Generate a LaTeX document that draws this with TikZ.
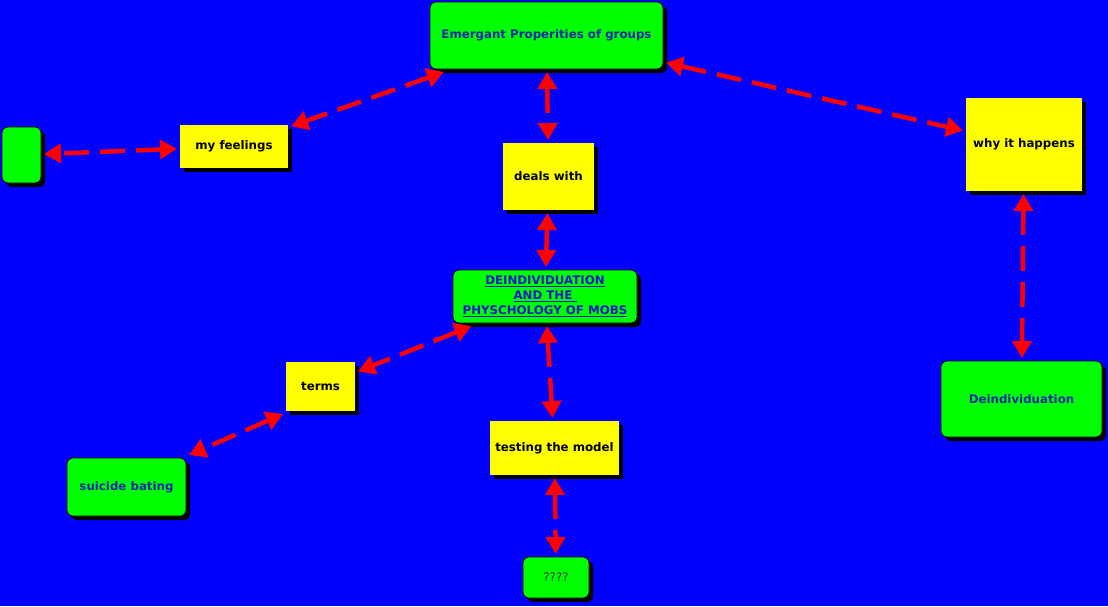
\documentclass[tikz,border=0pt]{standalone}
\usepackage{fontspec}
\setmainfont{DejaVu Sans}
\usetikzlibrary{arrows.meta,shadows}
\definecolor{bg}{RGB}{0,0,255}
\definecolor{gr}{RGB}{0,255,0}
\definecolor{ye}{RGB}{255,255,0}
\definecolor{rd}{RGB}{255,0,0}
\definecolor{gtext}{RGB}{20,40,170}
\definecolor{ltext}{RGB}{25,25,200}
\tikzset{
  base/.style={inner sep=0pt, outer sep=3pt, align=center,
    font=\fontsize{11.8}{15}\selectfont\bfseries,
    drop shadow={shadow xshift=4pt, shadow yshift=-4pt, fill=black, opacity=1}},
  gbox/.style={base, fill=gr, draw=black, line width=0.8pt, rounded corners=6pt, text=gtext},
  ybox/.style={base, fill=ye, text=black},
  link/.style={draw=rd, line width=4.5pt, dash pattern=on 25pt off 11pt,
    {Triangle[length=17pt,width=19pt]}-{Triangle[length=17pt,width=19pt]}}
}
\begin{document}
\begin{tikzpicture}[x=1pt,y=-1pt]
\fill[bg] (0,0) rectangle (1108,606);
\useasboundingbox (0,0) rectangle (1108,606);
\node[gbox, minimum width=233pt, minimum height=67pt] (emerg) at (546.5,35.5) {Emergant Properities of groups};
\node[ybox, minimum width=108pt, minimum height=43pt] (feel) at (234,146.5) {my feelings};
\node[gbox, minimum width=39pt, minimum height=56pt] (empty) at (21.5,155) {};
\node[ybox, minimum width=91pt, minimum height=67pt] (deals) at (548.5,176.5) {deals with};
\node[ybox, minimum width=116pt, minimum height=93pt] (why) at (1024,144.5) {why it happens};
\node[gbox, minimum width=184pt, minimum height=53pt, text=ltext] (deind) at (545,296.5)
  {\underline{DEINDIVIDUATION}\\\underline{AND THE\ }\\\underline{PHYSCHOLOGY OF MOBS}};
\node[ybox, minimum width=69pt, minimum height=49pt] (terms) at (320.5,386.5) {terms};
\node[ybox, minimum width=129pt, minimum height=54pt] (test) at (554.5,448) {testing the model};
\node[gbox, minimum width=119pt, minimum height=58pt] (suic) at (126.5,487) {suicide bating};
\node[gbox, minimum width=66pt, minimum height=41pt, text=black!80, font=\fontsize{11.8}{15}\selectfont] (q) at (556,577.5) {????};
\node[gbox, minimum width=161pt, minimum height=76pt] (deind2) at (1021.5,399) {Deindividuation};
\draw[link] (emerg) -- (feel);
\draw[link] (emerg) -- (deals);
\draw[link] (emerg) -- (why);
\draw[link] (feel) -- (empty);
\draw[link] (deals) -- (deind);
\draw[link] (why) -- (deind2);
\draw[link] (deind) -- (terms);
\draw[link] (deind) -- (test);
\draw[link] (terms.south west) -- (suic.north east);
\draw[link] (test) -- (q);
\end{tikzpicture}
\end{document}
